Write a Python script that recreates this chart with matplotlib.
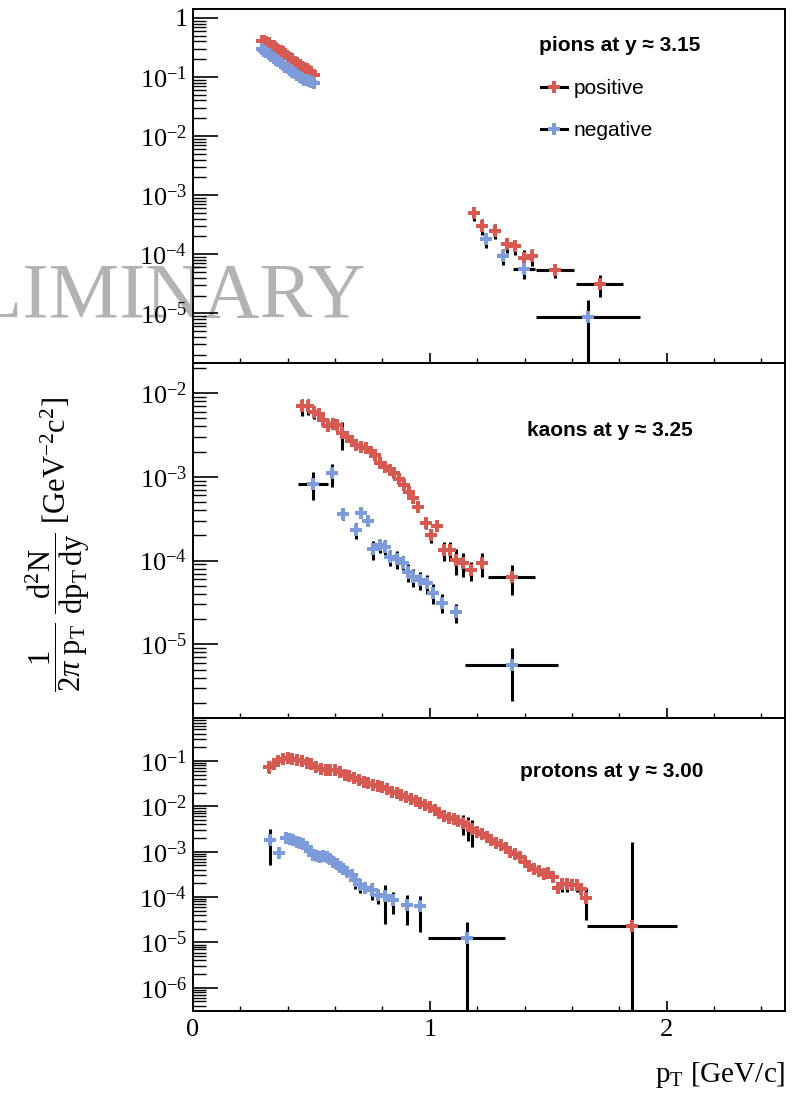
import numpy as np
import matplotlib
matplotlib.use("Agg")
import matplotlib.pyplot as plt
from matplotlib.lines import Line2D
from matplotlib.ticker import LogLocator, FuncFormatter, MultipleLocator, NullFormatter

plt.rcParams['font.family'] = ['Liberation Serif', 'DejaVu Serif']
plt.rcParams['mathtext.fontset'] = 'custom'
plt.rcParams['mathtext.rm'] = 'Liberation Serif'
plt.rcParams['mathtext.it'] = 'Liberation Serif:italic'
plt.rcParams['mathtext.fallback'] = 'stix'

RED = '#d65a52'
BLUE = '#7d9bd8'

# ---- pions, y = 3.15 ----
pi_lo_x = [0.29, 0.30, 0.31, 0.32, 0.33, 0.34, 0.35, 0.36, 0.37, 0.38, 0.39, 0.40,
           0.41, 0.42, 0.43, 0.44, 0.45, 0.46, 0.47, 0.48, 0.49, 0.50, 0.51]
pi_pos_lo = [0.41, 0.40, 0.39, 0.37, 0.34, 0.33, 0.31, 0.29, 0.27, 0.26, 0.24, 0.22,
             0.21, 0.20, 0.18, 0.17, 0.16, 0.15, 0.14, 0.135, 0.125, 0.12, 0.11]
pi_neg_lo = [0.30, 0.28, 0.26, 0.245, 0.23, 0.21, 0.195, 0.185, 0.17, 0.16, 0.15, 0.14,
             0.13, 0.122, 0.115, 0.108, 0.10, 0.095, 0.09, 0.088, 0.085, 0.082, 0.078]
pi_pos_lo_err = [0.01, 0.01, 0.01, 0.01, 0.01, 0.01, 0.01, 0.01, 0.01, 0.01, 0.01, 0.01,
                 0.008, 0.008, 0.008, 0.008, 0.008, 0.008, 0.008, 0.008, 0.008, 0.008, 0.008]
pi_neg_lo_err = [0.008, 0.008, 0.008, 0.008, 0.008, 0.008, 0.006, 0.006, 0.006, 0.006, 0.006, 0.006,
                 0.005, 0.005, 0.005, 0.005, 0.005, 0.005, 0.005, 0.005, 0.005, 0.006, 0.012]

pi_pos_hi_x = [1.186, 1.22, 1.274, 1.324, 1.359, 1.397, 1.433, 1.527, 1.717]
pi_pos_hi = [5.0e-4, 3.04e-4, 2.51e-4, 1.47e-4, 1.36e-4, 8.6e-5, 9.3e-5, 5.4e-5, 3.16e-5]
pi_pos_hi_xerr = [0.01, 0.01, 0.015, 0.015, 0.015, 0.02, 0.02, 0.08, 0.10]
pi_pos_hi_err = [1.4e-4, 0.9e-4, 0.7e-4, 0.4e-4, 0.4e-4, 0.3e-4, 0.3e-4, 1.5e-5, 1.3e-5]

pi_neg_hi_x = [1.236, 1.31, 1.397, 1.667]
pi_neg_hi = [1.78e-4, 9.3e-5, 5.6e-5, 8.6e-6]
pi_neg_hi_xerr = [0.015, 0.02, 0.045, 0.22]
pi_neg_hi_err = [5e-5, 2.8e-5, 1.8e-5, 8.5e-6]

# ---- kaons, y = 3.25 ----
k_pos_x = [0.46, 0.485, 0.51, 0.53, 0.55, 0.57, 0.59, 0.61, 0.63, 0.65, 0.67, 0.69,
           0.71, 0.73, 0.75, 0.77, 0.79, 0.81, 0.83, 0.85, 0.87, 0.89, 0.91, 0.93,
           0.95, 0.985, 1.005, 1.03, 1.06, 1.085, 1.11, 1.14, 1.175, 1.22, 1.345]
k_pos = [7.0e-3, 7.0e-3, 5.9e-3, 5.6e-3, 4.8e-3, 4.1e-3, 4.3e-3, 4.2e-3, 3.3e-3, 3.0e-3,
         2.7e-3, 2.4e-3, 2.3e-3, 2.2e-3, 2.0e-3, 1.8e-3, 1.45e-3, 1.3e-3, 1.2e-3, 1.1e-3,
         9.5e-4, 8.0e-4, 6.6e-4, 5.6e-4, 4.4e-4, 2.8e-4, 2.0e-4, 2.6e-4, 1.34e-4, 1.34e-4,
         1.02e-4, 9.3e-5, 7.7e-5, 9.3e-5, 6.4e-5]
k_pos_xerr = [0.01, 0.01, 0.01, 0.01, 0.01, 0.01, 0.01, 0.01, 0.01, 0.01, 0.01, 0.01,
              0.01, 0.01, 0.01, 0.01, 0.01, 0.01, 0.01, 0.01, 0.01, 0.01, 0.01, 0.01,
              0.01, 0.01, 0.01, 0.01, 0.01, 0.01, 0.01, 0.01, 0.01, 0.01, 0.10]
k_pos_err = [1.6e-3, 1.5e-3, 1.0e-3, 0.8e-3, 0.6e-3, 0.5e-3, 0.5e-3, 0.4e-3, 1.2e-3, 0.3e-3,
             0.25e-3, 0.2e-3, 0.2e-3, 0.2e-3, 0.2e-3, 0.15e-3, 0.15e-3, 0.12e-3, 0.1e-3, 0.1e-3,
             0.8e-4, 0.7e-4, 0.6e-4, 0.5e-4, 0.5e-4, 0.4e-4, 0.4e-4, 0.3e-4, 0.35e-4, 0.35e-4,
             0.35e-4, 0.3e-4, 0.2e-4, 0.3e-4, 0.25e-4]

k_neg_x = [0.508, 0.586, 0.633, 0.687, 0.709, 0.739, 0.759, 0.789, 0.81, 0.831,
           0.861, 0.886, 0.907, 0.928, 0.958, 0.987, 1.013, 1.051, 1.11, 1.346]
k_neg = [8.3e-4, 1.1e-3, 3.57e-4, 2.3e-4, 3.67e-4, 2.95e-4, 1.38e-4, 1.53e-4, 1.45e-4, 1.1e-4,
         1.05e-4, 9.3e-5, 7.3e-5, 6.4e-5, 5.9e-5, 5.4e-5, 4.1e-5, 3.15e-5, 2.4e-5, 5.6e-6]
k_neg_xerr = [0.063, 0.015, 0.015, 0.01, 0.01, 0.01, 0.01, 0.01, 0.01, 0.01,
              0.01, 0.01, 0.01, 0.01, 0.01, 0.01, 0.01, 0.015, 0.02, 0.197]
k_neg_err = [3e-4, 3.4e-4, 5e-5, 5e-5, 4e-5, 2e-5, 3.5e-5, 3e-5, 3e-5, 2.5e-5,
             2.5e-5, 2.2e-5, 1.8e-5, 1.6e-5, 1.5e-5, 1.4e-5, 1.1e-5, 8e-6, 6e-6, 3.5e-6]

# ---- protons, y = 3.00 ----
p_pos_x = [0.32, 0.34, 0.36, 0.38, 0.40, 0.42, 0.44, 0.46, 0.48, 0.50, 0.52, 0.54,
           0.56, 0.58, 0.60, 0.62, 0.64, 0.66, 0.68, 0.70, 0.72, 0.74, 0.76, 0.78,
           0.80, 0.82, 0.84, 0.86, 0.88, 0.90, 0.92, 0.94, 0.96, 0.98, 1.00, 1.02,
           1.04, 1.06, 1.08, 1.10, 1.12, 1.14, 1.16, 1.18, 1.20, 1.22, 1.24, 1.26,
           1.28, 1.30, 1.32, 1.34, 1.36, 1.38, 1.40, 1.42, 1.44, 1.46, 1.48, 1.50,
           1.52, 1.54, 1.56, 1.58, 1.60, 1.62, 1.64, 1.66, 1.852]
p_pos = [0.074, 0.085, 0.098, 0.11, 0.115, 0.108, 0.104, 0.100, 0.092, 0.085, 0.072, 0.065,
         0.063, 0.062, 0.062, 0.058, 0.050, 0.046, 0.042, 0.038, 0.035, 0.033, 0.030, 0.028,
         0.026, 0.024, 0.021, 0.0195, 0.018, 0.016, 0.0145, 0.013, 0.012, 0.0105, 0.0098, 0.0085,
         0.0072, 0.0062, 0.0056, 0.0052, 0.0047, 0.0043, 0.0037, 0.0031, 0.0027, 0.0024, 0.0021, 0.0018,
         0.00155, 0.0014, 0.0012, 0.00098, 0.00088, 0.00075, 0.00058, 0.00048, 0.00042, 0.00038, 0.00033, 0.00034,
         0.00028, 0.00016, 0.00019, 0.00019, 0.00018, 0.00018, 0.00015, 0.000095, 2.3e-5]
p_pos_xerr = [0.01] * 68 + [0.19]
p_pos_err = [0.02, 0.006, 0.006, 0.006, 0.006, 0.005, 0.005, 0.005, 0.005, 0.005, 0.004, 0.004,
             0.004, 0.004, 0.004, 0.003, 0.003, 0.003, 0.002, 0.002, 0.002, 0.002, 0.002, 0.0015,
             0.0015, 0.0015, 0.0012, 0.001, 0.001, 0.001, 0.0008, 0.0008, 0.0007, 0.0006, 0.0006, 0.0005,
             0.0004, 0.0004, 0.0003, 0.0003, 0.0003, 0.002, 0.002, 0.0018, 0.0002, 0.00015, 0.00012, 0.0001,
             0.0001, 0.00008, 0.00007, 0.00006, 0.00005, 0.00004, 0.00003, 0.00003, 0.00003, 0.00003, 0.00003, 0.00003,
             0.00003, 0.00004, 0.00006, 0.00006, 0.00004, 0.00005, 0.00004, 0.000063, 1.6e-3]

p_neg_x = [0.325, 0.363, 0.392, 0.41, 0.423, 0.437, 0.451, 0.465, 0.48, 0.494, 0.508, 0.522,
           0.536, 0.55, 0.564, 0.578, 0.592, 0.606, 0.62, 0.635, 0.649, 0.67, 0.684, 0.705,
           0.726, 0.754, 0.782, 0.81, 0.845, 0.902, 0.958, 1.156]
p_neg = [1.8e-3, 9.3e-4, 1.98e-3, 1.9e-3, 1.82e-3, 1.65e-3, 1.54e-3, 1.45e-3, 1.30e-3, 1.05e-3,
         8.5e-4, 8.0e-4, 7.8e-4, 8.2e-4, 7.8e-4, 6.8e-4, 6.0e-4, 5.4e-4, 4.7e-4, 4.1e-4,
         3.6e-4, 3.1e-4, 2.4e-4, 1.86e-4, 1.58e-4, 1.45e-4, 1.12e-4, 1.03e-4, 8.7e-5, 6.8e-5,
         6.2e-5, 1.26e-5]
p_neg_xerr = [0.01] * 31 + [0.163]
p_neg_err = [1.3e-3, 1.5e-4, 2e-4, 1.5e-4, 1.5e-4, 1.2e-4, 1.2e-4, 1e-4, 1e-4, 1e-4,
             8e-5, 8e-5, 8e-5, 8e-5, 8e-5, 6e-5, 6e-5, 5e-5, 5e-5, 4e-5,
             4e-5, 4e-5, 9e-5, 6e-5, 3.5e-5, 6e-5, 4e-5, 7.8e-5, 4.5e-5, 4.4e-5,
             4.5e-5, 1.55e-5]

panel_titles = ['pions at y \u2248 3.15', 'kaons at y \u2248 3.25', 'protons at y \u2248 3.00']


def draw(ax, x, y, xerr, yerr, color):
    ax.errorbar(x, y, xerr=xerr, yerr=yerr, fmt='P', color=color, ms=9, mec=color, mew=0,
                ecolor='black', elinewidth=2.2, capsize=0, zorder=3)


def fmt_log(v, pos):
    e = int(round(np.log10(v)))
    if e == 0:
        return '1'
    return r'$10^{%d}$' % e


fig = plt.figure(figsize=(7.98, 10.96), dpi=100)
left, width = 0.2419, 0.7419
ax1 = fig.add_axes([left, 0.6688, width, 0.9918 - 0.6688])
ax2 = fig.add_axes([left, 0.3449, width, 0.6688 - 0.3449])
ax3 = fig.add_axes([left, 0.0776, width, 0.3449 - 0.0776])

draw(ax1, pi_lo_x, pi_pos_lo, 0.005, pi_pos_lo_err, RED)
draw(ax1, pi_lo_x, pi_neg_lo, 0.005, pi_neg_lo_err, BLUE)
draw(ax1, pi_pos_hi_x, pi_pos_hi, pi_pos_hi_xerr, pi_pos_hi_err, RED)
draw(ax1, pi_neg_hi_x, pi_neg_hi, pi_neg_hi_xerr, pi_neg_hi_err, BLUE)

draw(ax2, k_pos_x, k_pos, k_pos_xerr, k_pos_err, RED)
draw(ax2, k_neg_x, k_neg, k_neg_xerr, k_neg_err, BLUE)

draw(ax3, p_pos_x, p_pos, p_pos_xerr, p_pos_err, RED)
draw(ax3, p_neg_x, p_neg, p_neg_xerr, p_neg_err, BLUE)

ylims = [(10**-5.84, 10**0.15), (10**-5.88, 10**-1.64), (10**-6.51, 10**-0.053)]
title_pos = [(0.584, 0.898), (0.564, 0.811), (0.552, 0.816)]

for i, ax in enumerate([ax1, ax2, ax3]):
    ax.set_yscale('log', nonpositive='clip')
    ax.set_xlim(0, 2.5)
    ax.set_ylim(*ylims[i])
    ax.set_facecolor('none')
    for s in ax.spines.values():
        s.set_linewidth(1.4)
    ax.yaxis.set_major_locator(LogLocator(base=10, numticks=20))
    ax.yaxis.set_minor_locator(LogLocator(base=10, subs=np.arange(2, 10), numticks=50))
    ax.yaxis.set_major_formatter(FuncFormatter(fmt_log))
    ax.yaxis.set_minor_formatter(NullFormatter())
    ax.xaxis.set_major_locator(MultipleLocator(1))
    ax.xaxis.set_minor_locator(MultipleLocator(0.2))
    ax.tick_params(axis='y', which='major', direction='in', length=18, width=1.2,
                   left=True, right=False, labelsize=19, pad=4)
    ax.tick_params(axis='y', which='minor', direction='in', length=9, width=1.0,
                   left=True, right=False)
    ax.tick_params(axis='x', which='major', direction='in', length=7, width=1.2,
                   top=False, labelsize=19, pad=6)
    ax.tick_params(axis='x', which='minor', direction='in', length=3.5, width=1.0, top=False)
    if i < 2:
        ax.tick_params(axis='x', labelbottom=False)
    ax.text(title_pos[i][0], title_pos[i][1], panel_titles[i], transform=ax.transAxes,
            fontsize=15, fontweight='bold', family='Liberation Sans', ha='left', va='center')

handles = [Line2D([], [], color='black', lw=2.2, marker='P', ms=9, mfc=RED, mec=RED, mew=0),
           Line2D([], [], color='black', lw=2.2, marker='P', ms=9, mfc=BLUE, mec=BLUE, mew=0)]
ax1.legend(handles, ['positive', 'negative'], loc='upper left', bbox_to_anchor=(0.588, 0.802),
           frameon=False, borderpad=0, borderaxespad=0, handlelength=1.25, handletextpad=0.3,
           labelspacing=1.1, prop={'family': 'Liberation Sans', 'size': 15})

ax3.set_xticks([0, 1, 2])
ax3.set_xticklabels(['0', '1', '2'])

fig.text(0.072, 0.503,
         r'$\dfrac{1}{2\pi\ \mathrm{p_T}}\ \dfrac{\mathrm{d^2N}}{\mathrm{dp_T\,dy}}$ [GeV$^{-2}$c$^{2}$]',
         rotation=90, ha='center', va='center', fontsize=22)
fig.text(0.984, 0.019, r'$\mathrm{p_T}$ [GeV/c]', ha='right', va='center', fontsize=21)

fig.text(366 / 798, 1 - 298 / 1096, 'PRELIMINARY', ha='right', va='center', fontsize=57,
         color='#b3b3b3', zorder=-1)

fig.savefig('out.png', dpi=100)
